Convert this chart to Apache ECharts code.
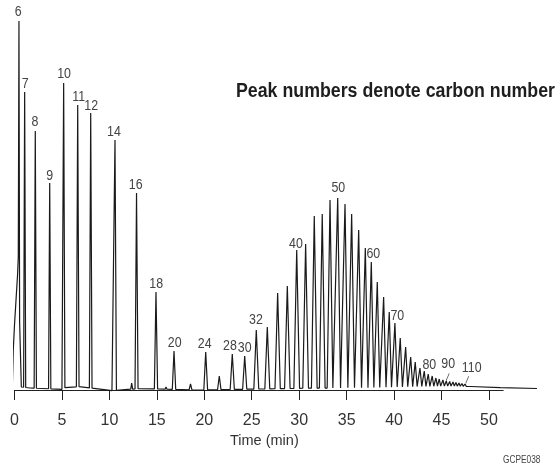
<!DOCTYPE html>
<html><head><meta charset="utf-8">
<script src="https://cdn.jsdelivr.net/npm/echarts@6/dist/echarts.min.js"></script>
<style>html,body{margin:0;padding:0;background:#fff}#c{width:558px;height:468px}</style>
</head><body><div id="c"></div>
<script>
// ---- data (time in min, signal in arbitrary units) ----
const xTicks = [0, 5, 10, 15, 20, 25, 30, 35, 40, 45, 50];

const peakTimes = [0.47, 1.07, 2.19, 3.71, 5.18, 6.66, 8.03, 10.59, 12.35, 12.86,
  14.91, 15.97, 16.81, 18.55, 20.15, 21.58, 22.95, 24.26, 25.48, 26.64,
  27.73, 28.75, 29.74, 30.68, 31.59, 32.43, 33.25, 34.06, 34.83, 35.53,
  36.27, 36.97, 37.60, 38.23, 38.90, 39.49, 40.09, 40.65, 41.22, 41.75,
  42.23, 42.73, 43.18, 43.60, 44.02, 44.41, 44.76, 45.15, 45.50, 45.86,
  46.21, 46.52, 46.84, 47.15, 47.47];
const peakHeights = [369, 298, 259, 207, 307, 285, 277, 250, 7, 197,
  98, 3, 39, 6, 38, 14, 36, 34, 60, 63,
  97, 104, 140, 146, 174, 176, 190, 192, 186, 176,
  160, 142, 128, 108, 93, 78, 67, 52, 43, 33,
  28, 22, 19, 16, 14, 12, 11, 10, 9, 8.5,
  8, 7.5, 7, 6.5, 6];
const peakHalfWidths = [0.07, 0.11, 0.12, 0.12, 0.13, 0.14, 0.14, 0.15, 0.1, 0.16,
  0.17, 0.1, 0.18, 0.15, 0.2, 0.18, 0.22, 0.22, 0.26, 0.26,
  0.28, 0.29, 0.3, 0.3, 0.3, 0.3, 0.3, 0.3, 0.3, 0.3,
  0.3, 0.28, 0.27, 0.26, 0.25, 0.24, 0.24, 0.23, 0.22, 0.21,
  0.2, 0.19, 0.18, 0.17, 0.16, 0.16, 0.15, 0.15, 0.15, 0.14,
  0.14, 0.14, 0.14, 0.14, 0.14];

// baseline (incl. solvent front) anchor points
const baseTimes  = [-0.23, -0.13, 0.0, 0.16, 0.32, 0.43, 0.53, 0.64, 0.72, 1.63, 5.0, 5.43, 6.9, 10.27, 13.2, 19.5, 25.9, 30.1, 38.5, 42.7, 46.0, 48.1, 51.2, 55.06];
const baseLevels = [2, 40, 65, 90, 115, 140, 68, 68, 3, 2, 0.7, 3, 3.3, -0.7, 1.5, 0, 1, 1.7, 2.5, 3.5, 4, 3.5, 2.3, 1.5];

// peak labels (carbon number) and their positions
const labelTexts  = ['6', '7', '8', '9', '10', '11', '12', '14', '16', '18', '20', '24', '28', '30', '32', '40', '50', '60', '70', '80', '90', '110'];
const labelTimes  = [0.40, 1.14, 2.16, 3.71, 5.22, 6.77, 8.09, 10.48, 12.77, 14.94, 16.88, 20.04, 22.71, 24.26, 25.45, 29.66, 34.12, 37.81, 40.34, 43.71, 45.71, 48.18];
const labelLevels = [378.3, 306.7, 268.3, 214.3, 316, 293.3, 284.7, 258.7, 205.7, 106.7, 47.3, 46.7, 44.3, 42.7, 70, 146.7, 202.7, 136.7, 74, 25, 26.7, 22.3];

// small pointer ticks under "90" and "110"
const pointerTimes  = [45.65, 47.71];
const pointerLevels = [13, 10.3];

const TITLE = 'Peak numbers denote carbon number';
const NOTE = 'GCPE038';

// ---- build trace ----
function baseAt(t) {
  if (t <= baseTimes[0]) return baseLevels[0];
  for (let i = 1; i < baseTimes.length; i++) {
    if (t <= baseTimes[i]) {
      const f = (t - baseTimes[i - 1]) / (baseTimes[i] - baseTimes[i - 1]);
      return baseLevels[i - 1] + f * (baseLevels[i] - baseLevels[i - 1]);
    }
  }
  return baseLevels[baseLevels.length - 1];
}
const pts = [];
baseTimes.forEach((t, i) => {
  const inside = peakTimes.some((p, j) => t > p - peakHalfWidths[j] && t < p + peakHalfWidths[j]);
  if (!inside) pts.push([t, baseLevels[i]]);
});
peakTimes.forEach((p, j) => {
  const w = peakHalfWidths[j];
  pts.push([p - w, baseAt(p - w)]);
  pts.push([p, peakHeights[j]]);
  pts.push([p + w, baseAt(p + w)]);
});
pts.sort((a, b) => a[0] - b[0]);

const FONT = '"Liberation Sans", Arial, sans-serif';
const mctx = document.createElement('canvas').getContext('2d');
mctx.font = 'bold 19.5px ' + FONT;
const titleScale = 319 / mctx.measureText(TITLE).width;
mctx.font = '10px ' + FONT;
const noteScale = 37.5 / mctx.measureText(NOTE).width;

// visible axis spans 0–51.5 min; trace grid uses the same scale but runs on to 55.5 min
const AXIS_MAX = 51.5, TRACE_MAX = 55.5;
const LEFT = 14.5, PLOT_W = 488.7;
const pxPerMin = PLOT_W / AXIS_MAX;

const chart = echarts.init(document.getElementById('c'), null, { renderer: 'canvas' });
chart.setOption({
  animation: false,
  backgroundColor: '#fff',
  graphic: [
    {
      type: 'text', x: 236, y: 92, scaleX: titleScale, silent: true,
      style: { text: TITLE, font: 'bold 19.5px ' + FONT, fill: '#1e1e1e', align: 'left', verticalAlign: 'middle' }
    },
    {
      type: 'text', x: 503, y: 460, scaleX: noteScale, silent: true,
      style: { text: NOTE, font: '10px ' + FONT, fill: '#444', align: 'left', verticalAlign: 'middle' }
    }
  ],
  grid: [
    { left: LEFT, width: PLOT_W, top: 10, bottom: 70 },
    { left: LEFT, width: pxPerMin * TRACE_MAX, top: 10, bottom: 70 }
  ],
  xAxis: [
    {
      gridIndex: 0, type: 'value', min: 0, max: AXIS_MAX,
      name: 'Time (min)', nameLocation: 'middle', nameGap: 25,
      nameTextStyle: { fontSize: 14.5, fontFamily: FONT, color: '#333', padding: [0, 0, 0, 11] },
      axisLine: { lineStyle: { color: '#222', width: 1 } },
      axisTick: { customValues: xTicks, length: 10, lineStyle: { color: '#222', width: 1 } },
      axisLabel: { customValues: xTicks, fontSize: 16, fontFamily: FONT, color: '#333', margin: 15 },
      splitLine: { show: false }
    },
    { gridIndex: 1, type: 'value', min: 0, max: TRACE_MAX, show: false }
  ],
  yAxis: [
    { gridIndex: 0, type: 'value', min: -8, max: 380, show: false },
    { gridIndex: 1, type: 'value', min: -8, max: 380, show: false }
  ],
  series: [
    {
      type: 'line', xAxisIndex: 1, yAxisIndex: 1, data: pts, symbol: 'none', clip: false,
      lineStyle: { color: '#1a1a1a', width: 1.2 }
    },
    {
      type: 'custom', silent: true,
      data: labelTexts.map((s, i) => [labelTimes[i], labelLevels[i]]),
      renderItem: (params, api) => {
        const p = api.coord([api.value(0), api.value(1)]);
        return {
          type: 'text', x: p[0], y: p[1], scaleX: 0.8,
          style: { text: labelTexts[params.dataIndex], font: '15.5px ' + FONT, fill: '#444', align: 'center', verticalAlign: 'middle' }
        };
      }
    },
    {
      type: 'scatter', silent: true,
      symbol: 'path://M0,10L4,0', symbolSize: [3, 7],
      itemStyle: { color: 'none', borderColor: '#333', borderWidth: 1 },
      data: pointerTimes.map((t, i) => [t, pointerLevels[i]])
    }
  ]
});
</script></body></html>
